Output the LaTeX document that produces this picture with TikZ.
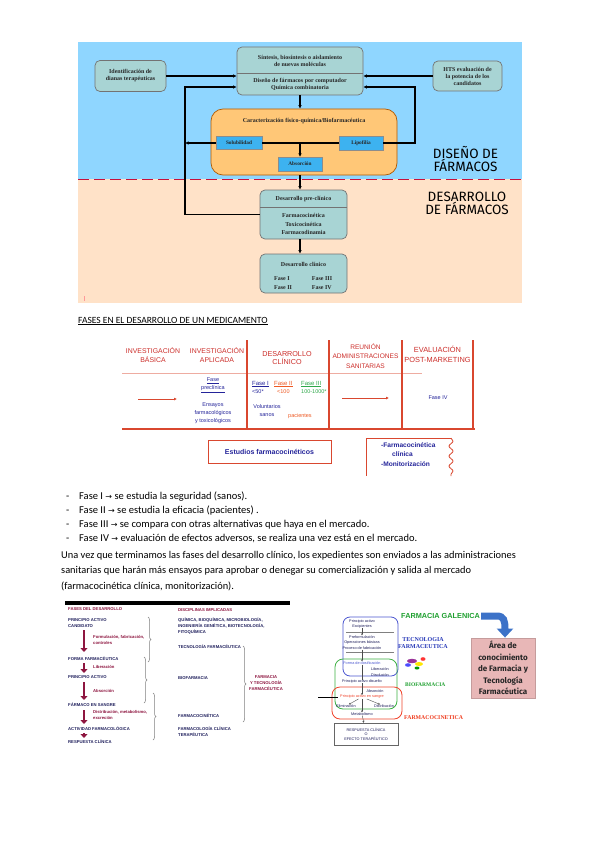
\documentclass[tikz,border=0pt]{standalone}
\usepackage{fontspec}
\setmainfont{Carlito}
\newfontfamily\arialf{Liberation Sans}
\newfontfamily\timesf{Liberation Serif}
\newfontfamily\comicf{Fira Sans}
\newfontfamily\dejavu{DejaVu Sans}
\usetikzlibrary{arrows.meta,decorations.pathmorphing,decorations.pathreplacing,calc}
\newcommand{\myfs}[2]{\fontsize{#1}{#2}\selectfont}
\definecolor{bgblue}{HTML}{8FD6FF}
\definecolor{bgpeach}{HTML}{FFE2C8}
\definecolor{tealbox}{HTML}{A8D4D4}
\definecolor{orangebox}{HTML}{FFC777}
\definecolor{smallblue}{HTML}{3DB2F0}
\definecolor{dashred}{HTML}{C8103C}
\definecolor{tabred}{HTML}{D9472F}
\definecolor{headred}{HTML}{CC2E2A}
\definecolor{tabblue}{HTML}{24249A}
\definecolor{taborange}{HTML}{EE5A24}
\definecolor{tabgreen}{HTML}{2EA84A}
\definecolor{maroon}{HTML}{8E1640}
\definecolor{navy}{HTML}{1F1F5C}
\definecolor{arrowblue}{HTML}{3C72C8}
\definecolor{pinkbox}{HTML}{E8B7B7}
\definecolor{galgreen}{HTML}{1FA030}
\definecolor{tecblue}{HTML}{2638B8}
\definecolor{fcred}{HTML}{F03C1E}
\definecolor{pblue}{HTML}{4A55D0}
\definecolor{pgreen}{HTML}{3CB043}
\definecolor{pred}{HTML}{F0442C}
\begin{document}
\begin{tikzpicture}[x=1pt,y=-1pt,
  tbox/.style={draw=black!55, fill=tealbox, rounded corners=5pt, line width=0.7pt,
     font=\timesf\bfseries\myfs{6}{7}, align=center, text=black!85, inner sep=1pt},
  dtext/.style={font=\timesf\bfseries\myfs{6}{7.5}, align=center, inner sep=0pt, text=black!85},
  sbox/.style={fill=smallblue, draw=black!45, line width=0.3pt, inner sep=0pt,
     font=\timesf\bfseries\myfs{5.3}{6}, text=black!85},
  arr/.style={line width=1.3pt, -{Latex[length=3.5pt,width=3.5pt]}},
  ln/.style={line width=1.3pt},
  big/.style={font=\comicf\myfs{13.5}{13}, align=center, inner sep=0pt},
  thead/.style={font=\arialf\myfs{6.9}{9}, text=headred, align=center, inner sep=0pt},
  tcell/.style={font=\arialf\myfs{5.5}{8}, text=tabblue, align=center, inner sep=0pt},
  tline/.style={tabred, line width=1.2pt},
  btext/.style={font=\myfs{10.5}{12}, anchor=base west, inner sep=0pt},
  ptxt/.style={font=\myfs{10.4}{12}, anchor=base west, inner sep=0pt},
  tiny/.style={font=\arialf\bfseries\myfs{4.2}{6}, anchor=west, inner sep=0pt, text=navy, align=left},
  tinym/.style={tiny, text=maroon},
  bigarr/.style={maroon, line width=2.6pt, -{Triangle[length=4pt,width=7pt]}},
  brc/.style={decorate, decoration={brace, amplitude=3pt}, gray, line width=0.5pt},
  ptext/.style={font=\arialf\myfs{3.8}{4.6}, inner sep=0pt, text=navy},
  parr/.style={line width=0.4pt, black!70, -{Stealth[length=2pt,width=2pt]}},
]
\fill[white] (0,0) rectangle (599,848);
\useasboundingbox (0,0) rectangle (599,848);

% ================= TOP DIAGRAM =================
\fill[bgblue] (78,42) rectangle (522,179);
\fill[bgpeach] (78,179) rectangle (522,303);
\draw[dashred, line width=1.6pt, dash pattern=on 11pt off 5pt] (78,179.5) -- (522,179.5);
\draw[pink!80!red, line width=0.6pt] (84,296) -- (84,301);

\node[tbox, minimum width=71pt, minimum height=31pt] (ident) at (130.5,76) {Identificación de\\dianas terapéuticas};
\node[tbox, minimum width=69pt, minimum height=30pt] (hts) at (467.5,76) {HTS evaluación de\\la potencia de los\\candidatos};
\node[tbox, minimum width=126pt, minimum height=48pt] (central) at (300,71) {};
\draw[black!55, line width=0.7pt] (237,73) -- (363,73);
\node[dtext] (ctop) at (300,61) {Síntesis, biosíntesis o aislamiento\\de nuevas moléculas};
\node[dtext] (cbot) at (300,84.5) {Diseño de fármacos por computador\\Química combinatoria};

\node[draw=orange!70!black, fill=orangebox, rounded corners=12pt, minimum width=186pt, minimum height=66pt, line width=0.7pt] (orange) at (304,142) {};
\node[dtext] (otitle) at (304,121) {Caracterización físico-química/Biofarmacéutica};
\node[sbox, minimum width=46pt, minimum height=13pt] (sol) at (239,143) {Solubilidad};
\node[sbox, minimum width=44pt, minimum height=14pt] (lip) at (361,143) {Lipofilia};
\node[sbox, minimum width=44pt, minimum height=14pt] (abs) at (300,164) {Absorción};

\node[tbox, minimum width=87pt, minimum height=49pt] (pre) at (303.5,214.5) {};
\draw[black!55, line width=0.7pt] (260,207) -- (347,207);
\node[dtext] (pret) at (303.5,199.5) {Desarrollo pre-clínico};
\node[dtext, font=\timesf\bfseries\myfs{6}{8.5}] (preb) at (303.5,224) {Farmacocinética\\Toxicocinética\\Farmacodinamia};

\node[tbox, minimum width=87pt, minimum height=39pt] (clin) at (303.5,273.5) {};
\node[dtext] (clint) at (303.5,264) {Desarrollo clínico};
\node[dtext, align=left, font=\timesf\bfseries\myfs{6}{9}] (clin1) at (283,283.5) {Fase I\\Fase II};
\node[dtext, align=left, font=\timesf\bfseries\myfs{6}{9}] (clin2) at (322,283.5) {Fase III\\Fase IV};

\coordinate (c1) at (185,87);
\coordinate (c2) at (415,87);
\draw[arr] (ident.east) -- (ident.east -| central.west);
\draw[arr] (hts.west) -- (hts.west -| central.east);
\draw[arr] (central.south) -- (central.south |- orange.north);
\draw[ln] (sol.east) -- (lip.west);
\draw[arr] (abs.north |- sol.east) -- (abs.north);
\draw[arr] (sol.west) -- (sol.west -| c1);
\draw[arr] (lip.east) -| (c2) -- (c2 -| central.east);
\draw[arr] (pre.west) -| (c1) -- (c1 -| central.west);
\draw[arr] (orange.south -| central.south) -- (pre.north -| central.south);
\draw[arr] (pre.south -| central.south) -- (clin.north -| central.south);

\node[big] (dis) at (465.5,159) {DISEÑO DE\\FÁRMACOS};
\node[big] (des) at (467,203) {DESARROLLO\\DE FÁRMACOS};

% ================= TITLE =================
\node[btext, font=\myfs{9.5}{10}] (title) at (78,323) {\underline{FASES EN EL DESARROLLO DE UN MEDICAMENTO}};

% ================= TABLE =================
\draw[tabred!45, line width=1pt] (122,373) -- (422,373);
\draw[tline] (122,429) -- (475,429);
\foreach \x in {247,329,402,473} \draw[tline] (\x,340) -- (\x,429);
\node[thead] (h1) at (153,355) {INVESTIGACIÓN\\BÁSICA};
\node[thead] (h2) at (217,355) {INVESTIGACIÓN\\APLICADA};
\node[thead, font=\arialf\myfs{7.2}{8}] (h3) at (287,358) {DESARROLLO\\CLÍNICO};
\node[thead, font=\arialf\myfs{6.6}{9.5}] (h4) at (365.5,356) {REUNIÓN\\ADMINISTRACIONES\\SANITARIAS};
\node[thead, font=\arialf\myfs{7.4}{10}] (h5) at (437.5,354) {EVALUACIÓN\\POST-MARKETING};

\draw[tabred, line width=0.8pt, -{Latex[length=3pt,width=3pt]}] (138,399) -- (177,399);
\node[tcell] (fp) at (213,385.5) {\underline{Fase}\\\underline{preclínica}};
\node[tcell] (ens) at (213,413) {Ensayos\\farmacológicos\\y toxicológicos};
\node[tcell, anchor=west, font=\arialf\myfs{6}{8}] (f1) at (252,384) {\underline{Fase I}};
\node[tcell, anchor=west] (f1n) at (252,392) {<50*};
\node[tcell, anchor=west, text=taborange, font=\arialf\myfs{6}{8}] (f2) at (274,384) {\underline{Fase II}};
\node[tcell, anchor=west, text=taborange] (f2n) at (277,392) {<100};
\node[tcell, anchor=west, text=tabgreen, font=\arialf\myfs{6}{8}] (f3) at (301,384) {\underline{Fase III}};
\node[tcell, anchor=west, text=tabgreen] (f3n) at (301,392) {100-1000*};
\node[tcell] (vol) at (267,411) {Voluntarios\\sanos};
\node[tcell, anchor=west, text=taborange] (pac) at (288,416) {pacientes};
\draw[tabred, line width=0.8pt, -{Latex[length=3pt,width=3pt]}] (342,398) -- (389,398);
\node[tcell] (f4) at (438,398) {Fase IV};

\node[draw=tabred, line width=1pt, minimum width=123pt, minimum height=23pt, font=\arialf\bfseries\myfs{7}{8}, text=tabblue] (est) at (269.5,451.5) {Estudios farmacocinéticos};
\draw[tabred, line width=1pt] (451,438) -- (366,438) -- (366,476);
\draw[tabred, line width=0.8pt, decorate, decoration={snake, amplitude=2pt, segment length=10pt}] (451,438) -- (451,476);
\node[tcell, anchor=west, font=\arialf\bfseries\myfs{6.6}{8}] (fc1) at (381,445) {-Farmacocinética};
\node[tcell, anchor=west, font=\arialf\bfseries\myfs{6.6}{8}] (fc2) at (392,454.5) {clínica};
\node[tcell, anchor=west, font=\arialf\bfseries\myfs{6.6}{8}] (fc3) at (381,464) {-Monitorización};

% ================= BULLETS =================
\foreach \y in {499,513,527,541} \node[btext] at (66,\y) {-};
\node[btext] (b1) at (79,499) {Fase I {\dejavu\myfs{8}{9}→} se estudia la seguridad (sanos).};
\node[btext] (b2) at (79,513) {Fase II {\dejavu\myfs{8}{9}→} se estudia la eficacia (pacientes) .};
\node[btext] (b3) at (79,527) {Fase III {\dejavu\myfs{8}{9}→} se compara con otras alternativas que haya en el mercado.};
\node[btext] (b4) at (79,541) {Fase IV {\dejavu\myfs{8}{9}→} evaluación de efectos adversos, se realiza una vez está en el mercado.};
\node[ptxt] (p1) at (61,558) {Una vez que terminamos las fases del desarrollo clínico, los expedientes son enviados a las administraciones};
\node[ptxt] (p2) at (61,573.5) {sanitarias que harán más ensayos para aprobar o denegar su comercialización y salida al mercado};
\node[ptxt] (p3) at (61,589) {(farmacocinética clínica, monitorización).};

% ================= BOTTOM LEFT IMAGE =================
\fill[black] (65,601) rectangle (290,605);
\node[tinym] (l0) at (68,609) {FASES DEL DESARROLLO};
\node[tiny] (l1) at (68,623) {PRINCIPIO ACTIVO\\CANDIDATO};
\node[tinym] (l1b) at (93,640) {Formulación, fabricación,\\controles};
\node[tiny] (l2) at (68,659) {FORMA FARMACÉUTICA};
\node[tinym] (l2b) at (93,667) {Liberación};
\node[tiny] (l3) at (68,677) {PRINCIPIO ACTIVO};
\node[tinym] (l3b) at (93,691) {Absorción};
\node[tiny] (l4) at (68,705) {FÁRMACO EN SANGRE};
\node[tinym] (l4b) at (93,715) {Distribución, metabolismo,\\excreción};
\node[tiny] (l5) at (68,729) {ACTIVIDAD FARMACOLÓGICA};
\node[tiny] (l6) at (68,742) {RESPUESTA CLÍNICA};
\draw[bigarr] (84,630) -- (84,652);
\draw[bigarr] (84,663) -- (84,673);
\draw[bigarr] (84,682) -- (84,700);
\draw[bigarr] (84,710) -- (84,724);
\draw[bigarr] (84,733) -- (84,738);
\draw[brc] (148,617) -- (148,662);
\draw[brc] (144,657) -- (144,703);
\draw[brc] (153,693) -- (153,740);
\node[tinym] (r0) at (178,610) {DISCIPLINAS IMPLICADAS};
\node[tiny] (r1) at (178,626) {QUÍMICA, BIOQUÍMICA, MICROBIOLOGÍA,\\INGENIERÍA GENÉTICA, BIOTECNOLOGÍA,\\FITOQUÍMICA};
\node[tiny] (r2) at (178,647) {TECNOLOGÍA FARMACÉUTICA};
\node[tiny] (r3) at (178,678) {BIOFARMACIA};
\node[tiny] (r4) at (178,716) {FARMACOCINÉTICA};
\node[tiny] (r5) at (178,732) {FARMACOLOGÍA CLÍNICA\\TERAPÉUTICA};
\draw[brc] (243,646) -- (243,722);
\node[tinym, anchor=center, align=center] (r6) at (266,683) {FARMACIA\\Y TECNOLOGÍA\\FARMACÉUTICA};

% ================= BOTTOM RIGHT IMAGE =================
\draw[pblue, line width=0.8pt, rounded corners=7pt] (343,617) rectangle (398,676);
\draw[pgreen, line width=0.8pt, rounded corners=8pt] (335,659) rectangle (397,709);
\draw[pred, line width=0.8pt, rounded corners=8pt] (332,687) rectangle (402,719);
\draw[black!50, line width=0.4pt] (346,632) -- (394,632);
\draw[black!50, line width=0.4pt] (346,652) -- (394,652);
\node[ptext, align=center] (q1) at (362,624) {Principio activo\\Excipientes};
\node[ptext] (q2) at (362,637) {Preformulación};
\node[ptext] (q3) at (362,642.5) {Operaciones básicas};
\node[ptext] (q4) at (362,648) {Proceso de fabricación};
\node[ptext, text=pblue] (q5) at (362,663) {Forma de dosificación};
\node[ptext] (q6) at (380,669) {Liberación};
\node[ptext] (q7) at (380,675) {Disolución};
\node[ptext] (q8) at (362,681.5) {Principio activo disuelto};
\node[ptext] (q9) at (375,691) {Absorción};
\node[ptext, text=pred] (q10) at (362,697) {Principio activo en sangre};
\node[ptext] (q11) at (346,706) {Eliminación};
\node[ptext] (q12) at (384,706) {Distribución};
\node[ptext] (q13) at (362,714) {Metabolismo};
\node[draw=black!60, line width=0.4pt, ptext, align=center, minimum width=64pt, minimum height=22pt] (resp) at (366,734) {RESPUESTA CLÍNICA\\O\\EFECTO TERAPÉUTICO};
\draw[parr] (q1) -- (q2);
\draw[parr] (q4) -- (q5);
\draw[line width=0.4pt, black!70] (q5) -- (q8);
\draw[parr] (q8) -- (q10);
\draw[parr] (q10) -- (q11);
\draw[parr] (q10) -- (q12);
\draw[parr] (q10) -- (q13);
\draw[parr] (q13) -- (resp);
\coordinate (lt) at (318,697);
\draw[line width=0.5pt, black] (lt) -- (338,697);
\node[font=\arialf\bfseries\myfs{7.3}{8}, text=galgreen, anchor=west, inner sep=0pt] (galen) at (401,616) {FARMACIA GALENICA};
\node[font=\timesf\bfseries\myfs{6}{7}, text=tecblue, align=center, inner sep=0pt] (tec) at (423,643) {TECNOLOGIA\\FARMACEUTICA};
\node[font=\timesf\bfseries\myfs{5.5}{7}, text=galgreen, anchor=west, inner sep=0pt] (bio) at (405,685) {BIOFARMACIA};
\node[font=\timesf\bfseries\myfs{5.8}{7}, text=fcred, anchor=west, inner sep=0pt] (fc) at (404,718) {FARMACOCINETICA};
\fill[violet!80] (412,661) ellipse (5pt and 2.2pt);
\fill[yellow!90!orange] (419,664) ellipse (4pt and 2pt);
\fill[blue!70] (408,665) ellipse (3pt and 1.8pt);
\fill[red!80] (423,659) ellipse (2.5pt and 1.8pt);
\fill[green!60!black] (417,668) ellipse (2.5pt and 1.5pt);
\node[fill=pinkbox, draw=pinkbox!85!black, line width=0.4pt, minimum width=64pt, minimum height=60pt, font=\comicf\bfseries\myfs{8}{11.5}, align=center, text=black!85] (area) at (503,668) {Área de\\conocimiento\\de Farmacia y\\Tecnología\\Farmacéutica};
\draw[arrowblue, line width=7pt, -{Triangle[length=9pt,width=16pt]}] (galen.east) ++(1,0) -- (497,616) .. controls (504,616) and (505,621) .. (area.north -| 505,0);
\end{tikzpicture}
\end{document}
